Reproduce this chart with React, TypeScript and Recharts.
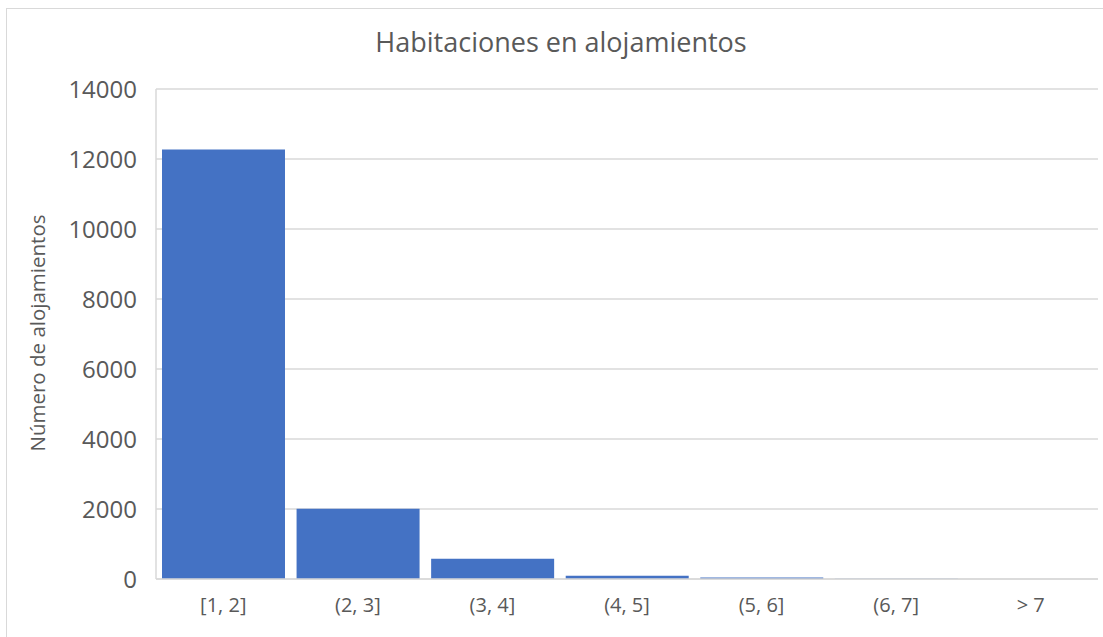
import React from "react";
import { BarChart, Bar, XAxis, YAxis, CartesianGrid, Label } from "recharts";

const categories = ["[1, 2]", "(2, 3]", "(3, 4]", "(4, 5]", "(5, 6]", "(6, 7]", "> 7"];
const counts = [12270, 2010, 580, 95, 40, 4, 2];
const yTicks = [0, 2000, 4000, 6000, 8000, 10000, 12000, 14000];

const data = categories.map((rango, i) => ({ rango, alojamientos: counts[i] }));

const FONT = "'Open Sans', sans-serif";
const TEXT = "#595959";
const GRID = "#d9d9d9";

function YTitle({ viewBox }: any) {
  const cy = viewBox.y + viewBox.height / 2 - 1;
  return (
    <text
      x={37}
      y={cy}
      transform={`rotate(-90, 37, ${cy})`}
      textAnchor="middle"
      dominantBaseline="central"
      fill={TEXT}
      fontFamily={FONT}
      fontSize={20.5}
    >
      Número de alojamientos
    </text>
  );
}

export default function App() {
  return (
    <div style={{ position: "absolute", left: 0, top: 0, width: 1103, height: 637, background: "#fff", overflow: "hidden" }}>
      {/* chart frame */}
      <div
        style={{
          position: "absolute",
          left: 6,
          top: 8,
          width: 1120,
          height: 660,
          border: `1px solid ${GRID}`,
          boxSizing: "border-box",
        }}
      />
      <div
        style={{
          position: "absolute",
          left: 0,
          top: 22,
          width: 1122,
          textAlign: "center",
          fontFamily: FONT,
          fontSize: 27,
          color: TEXT,
          lineHeight: "40px",
        }}
      >
        Habitaciones en alojamientos
      </div>
      <BarChart
        width={1103}
        height={637}
        data={data}
        margin={{ top: 89, right: 5, bottom: 0, left: 0 }}
        barCategoryGap={6}
        style={{ position: "absolute", left: 0, top: 0 }}
      >
        <CartesianGrid vertical={false} stroke={GRID} strokeWidth={1.5} />
        <XAxis
          dataKey="rango"
          height={58}
          axisLine={{ stroke: GRID, strokeWidth: 1.5 }}
          tickLine={false}
          tickSize={0}
          tickMargin={19}
          tick={{ fill: TEXT, fontFamily: FONT, fontSize: 20 }}
        />
        <YAxis
          width={156}
          domain={[0, 14000]}
          ticks={yTicks}
          axisLine={{ stroke: GRID, strokeWidth: 1.5 }}
          tickLine={false}
          tickSize={0}
          tickMargin={19}
          tick={{ fill: TEXT, fontFamily: FONT, fontSize: 24 }}
        >
          <Label content={YTitle} />
        </YAxis>
        <Bar dataKey="alojamientos" fill="#4472c4" isAnimationActive={false} />
      </BarChart>
    </div>
  );
}
